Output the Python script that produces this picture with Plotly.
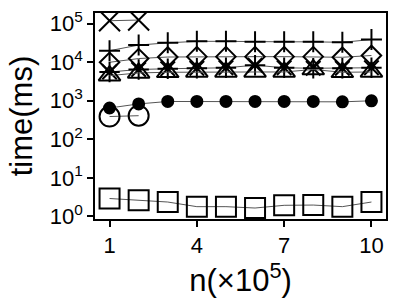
import plotly.graph_objects as go

n_all = [1, 2, 3, 4, 5, 6, 7, 8, 9, 10]
n_short = [1, 2]

t_xcross = [1.2e5, 1.25e5]
t_plus = [2.0e4, 2.8e4, 3.2e4, 3.5e4, 3.5e4, 3.4e4, 3.4e4, 3.4e4, 3.3e4, 3.9e4]
t_diamond = [1.0e4, 1.25e4, 1.37e4, 1.4e4, 1.4e4, 1.4e4, 1.4e4, 1.4e4, 1.35e4, 1.5e4]
t_star = [5.6e3, 6.5e3, 6.8e3, 7.0e3, 7.2e3, 8.4e3, 7.2e3, 7.0e3, 7.0e3, 7.2e3]
t_triangle = [4.5e3, 5.3e3, 5.5e3, 5.6e3, 5.6e3, 5.6e3, 5.6e3, 6.5e3, 5.5e3, 5.6e3]
t_dot = [650, 830, 960, 960, 960, 960, 960, 960, 940, 1000]
t_circle = [390, 410]
t_square = [2.9, 2.6, 2.35, 1.78, 1.78, 1.64, 1.93, 1.96, 1.78, 2.35]

x_ticks = [1, 4, 7, 10]
y_tickvals = [1, 10, 100, 1000, 10000, 100000]
y_ticktext = ["10<sup>0</sup>", "10<sup>1</sup>", "10<sup>2</sup>", "10<sup>3</sup>", "10<sup>4</sup>", "10<sup>5</sup>"]

FONT = "Liberation Sans, Arial, sans-serif"
LINE = dict(color="#555555", width=1)

series = [
    (n_short, t_xcross, "x-thin-open", 21),
    (n_all, t_plus, "cross-thin-open", 15),
    (n_all, t_diamond, "diamond-open", 15),
    (n_all, t_star, "asterisk-open", 17),
    (n_all, t_triangle, "triangle-up-open", 19),
    (n_all, t_dot, "circle", 11),
    (n_short, t_circle, "circle-open", 20),
    (n_all, t_square, "square-open", 20),
]

fig = go.Figure()
for xs, ys, sym, size in series:
    fig.add_trace(go.Scatter(
        x=xs, y=ys, mode="lines+markers",
        line=LINE,
        marker=dict(symbol=sym, size=size, color="black",
                    line=dict(color="black", width=2)),
        showlegend=False,
    ))

axis_common = dict(showline=True, mirror=True, linecolor="black", linewidth=1.5,
                   ticks="outside", ticklen=6, tickwidth=1.5, tickcolor="black",
                   showgrid=False, zeroline=False, automargin=False,
                   tickfont=dict(family=FONT, size=22, color="black"))

fig.update_xaxes(range=[0.5, 10.5], tickvals=x_ticks,
                 title=dict(text="n(×10<sup>5</sup>)", font=dict(family=FONT, size=31, color="black"), standoff=2),
                 **axis_common)
fig.update_yaxes(type="log", range=[-0.07, 5.28], tickvals=y_tickvals, ticktext=y_ticktext,
                 title=dict(text="time(ms)", font=dict(family=FONT, size=31, color="black"), standoff=8),
                 **axis_common)

fig.update_layout(template="none", width=399, height=300, margin=dict(l=95, r=13, t=13, b=81),
                  plot_bgcolor="white", paper_bgcolor="white")

fig.write_html("out.html", config={"displayModeBar": False},
               post_script="document.body.style.margin='0';document.body.style.overflow='hidden';")
